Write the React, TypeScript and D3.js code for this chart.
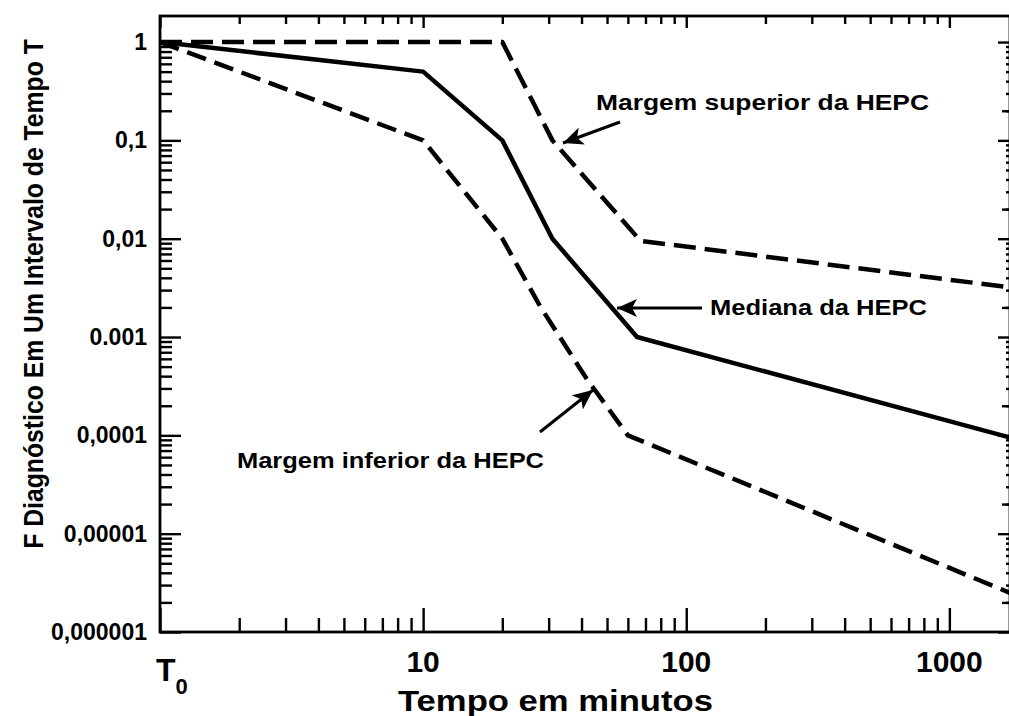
import React, { useEffect, useRef } from 'react'
import * as d3 from 'd3'

const width = 1009
const height = 716

// tempo em minutos (T0 = 1) e probabilidade para cada curva
const upperT = [1, 20, 31, 67, 1700]
const upperF = [1, 1, 0.1, 0.0095, 0.0032]
const medianT = [1, 10, 20, 31, 65, 1700]
const medianF = [1, 0.5, 0.1, 0.01, 0.001, 0.000095]
const lowerT = [1, 10, 20, 28, 42, 60, 1700]
const lowerF = [1, 0.1, 0.01, 0.002, 0.00037, 0.0001, 0.0000025]

const yTicks = [0.000001, 0.00001, 0.0001, 0.001, 0.01, 0.1, 1]
const yTickLabels = ['0,000001', '0,00001', '0,0001', '0.001', '0,01', '0,1', '1']
const xTicks = [10, 100, 1000]
const xTickLabels = ['10', '100', '1000']

const FONT = "'Liberation Sans', Arial, sans-serif"

export default function App() {
  const ref = useRef<SVGSVGElement>(null)

  useEffect(() => {
    const svg = d3.select(ref.current)
    svg.selectAll('*').remove()

    const left = 160, right = 1010, top = 16, bottom = 632

    const x = d3.scaleLog().domain([1, 1700]).range([left, right])
    const y = d3.scaleLog().domain([0.000001, 1.84]).range([bottom, top])

    // minor ticks 2..9 per decade
    const minors = (dom: number[]) => {
      const out: number[] = []
      for (let d = 1e-7; d < dom[1]; d *= 10) {
        for (let k = 2; k <= 9; k++) {
          const v = +(k * d).toPrecision(3)
          if (v > dom[0] && v < dom[1]) out.push(v)
        }
      }
      return out
    }
    const xMajor = [1, ...xTicks]
    const xMinor = minors(x.domain())
    const yMinor = minors(y.domain())

    svg.append('defs').append('marker')
      .attr('id', 'head')
      .attr('viewBox', '0 0 20 18')
      .attr('refX', 20).attr('refY', 9)
      .attr('markerWidth', 20).attr('markerHeight', 18)
      .attr('markerUnits', 'userSpaceOnUse')
      .attr('orient', 'auto')
      .append('path')
      .attr('d', 'M0,0 L20,9 L0,18 L5,9 Z')
      .attr('fill', '#000')

    const tickAxis = (axis: any, values: number[], size: number, tr: string) => {
      svg.append('g')
        .attr('transform', tr)
        .call(axis.tickValues(values).tickSizeInner(size).tickSizeOuter(0).tickFormat(() => ''))
        .call((g: any) => g.select('.domain').remove())
        .call((g: any) => g.selectAll('line').attr('stroke', '#000').attr('stroke-width', 2.4))
    }

    // bottom / top
    tickAxis(d3.axisBottom(x), xMajor, -24, `translate(0,${bottom})`)
    tickAxis(d3.axisBottom(x), xMinor, -14, `translate(0,${bottom})`)
    tickAxis(d3.axisTop(x), xMajor, -12, `translate(0,${top})`)
    tickAxis(d3.axisTop(x), xMinor, -8, `translate(0,${top})`)
    // left / right
    tickAxis(d3.axisLeft(y), yTicks, -21, `translate(${left},0)`)
    tickAxis(d3.axisLeft(y), yMinor, -12, `translate(${left},0)`)
    tickAxis(d3.axisRight(y), yTicks, -12, `translate(${right},0)`)
    tickAxis(d3.axisRight(y), yMinor.filter(v => +v.toExponential(0).split('e')[0] === 2), -8, `translate(${right},0)`)
    tickAxis(d3.axisRight(y), yMinor, -4, `translate(${right},0)`)

    svg.append('rect')
      .attr('x', left).attr('y', top)
      .attr('width', right - left).attr('height', bottom - top)
      .attr('fill', 'none').attr('stroke', '#000').attr('stroke-width', 2.8)

    const line = d3.line<[number, number]>()
      .x(d => x(d[0]))
      .y(d => y(d[1]))

    const series = [
      { t: upperT, f: upperF, dash: '22,9' },
      { t: medianT, f: medianF, dash: null },
      { t: lowerT, f: lowerF, dash: '20,9' },
    ]
    series.forEach(s => {
      svg.append('path')
        .datum(s.t.map((t, i) => [t, s.f[i]] as [number, number]))
        .attr('d', line)
        .attr('fill', 'none')
        .attr('stroke', '#000')
        .attr('stroke-width', 4.5)
        .attr('stroke-linejoin', 'round')
        .attr('stroke-dasharray', s.dash)
    })

    // y tick labels
    svg.append('g').selectAll('text')
      .data(yTicks)
      .enter().append('text')
      .attr('x', 147)
      .attr('y', d => y(d) + 8)
      .attr('text-anchor', 'end')
      .style('font-family', FONT).style('font-weight', 'bold').style('font-size', '23px')
      .text((d, i) => yTickLabels[i])

    // x tick labels
    svg.append('g').selectAll('text')
      .data(xTicks)
      .enter().append('text')
      .attr('x', d => x(d))
      .attr('y', 672)
      .attr('text-anchor', 'middle')
      .style('font-family', FONT).style('font-weight', 'bold').style('font-size', '30px')
      .text((d, i) => xTickLabels[i])

    const t0 = svg.append('text')
      .attr('x', 156).attr('y', 681)
      .style('font-family', FONT).style('font-weight', 'bold').style('font-size', '32px')
    t0.append('tspan').text('T')
    t0.append('tspan').attr('dy', 13).style('font-size', '22px').text('0')

    svg.append('text')
      .attr('x', 398).attr('y', 711)
      .attr('textLength', 315).attr('lengthAdjust', 'spacingAndGlyphs')
      .style('font-family', FONT).style('font-weight', 'bold').style('font-size', '30px')
      .text('Tempo em minutos')

    // y title: squeezed with a scale so that its box stays true
    const yTitle = svg.append('text')
      .attr('text-anchor', 'middle')
      .style('font-family', FONT).style('font-weight', 'bold').style('font-size', '27px')
      .text('F  Diagnóstico Em Um Intervalo de Tempo T')
    const natural = (yTitle.node() as SVGTextElement).getComputedTextLength() || 510
    yTitle.attr('transform', `translate(43,294) rotate(-90) scale(${Math.min(1, 510 / natural)},1)`)

    // annotations
    const notes = [
      { text: 'Margem superior da HEPC', x: 596, y: 110, len: 333, from: [620, 122], to: [563, 143] },
      { text: 'Mediana da HEPC', x: 710, y: 315, len: 217, from: [702, 308], to: [617, 308] },
      { text: 'Margem inferior da HEPC', x: 237, y: 468, len: 307, from: [540, 432], to: [593, 390] },
    ]
    notes.forEach(n => {
      svg.append('text')
        .attr('x', n.x).attr('y', n.y)
        .attr('textLength', n.len).attr('lengthAdjust', 'spacingAndGlyphs')
        .style('font-family', FONT).style('font-weight', 'bold').style('font-size', '22px')
        .text(n.text)
      svg.append('line')
        .attr('x1', n.from[0]).attr('y1', n.from[1])
        .attr('x2', n.to[0]).attr('y2', n.to[1])
        .attr('stroke', '#000').attr('stroke-width', 3)
        .attr('marker-end', 'url(#head)')
    })
  }, [])

  return (
    <svg
      ref={ref}
      width={width}
      height={height}
      style={{ position: 'absolute', left: 0, top: 0, background: '#fff' }}
    />
  )
}
